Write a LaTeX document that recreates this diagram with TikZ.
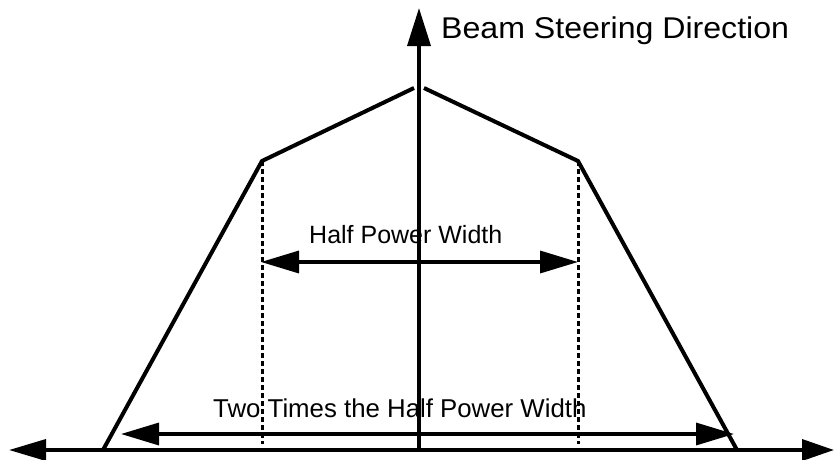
\documentclass[tikz,border=0pt]{standalone}
\usepackage{fontspec}
\setmainfont{Liberation Sans}
\usetikzlibrary{arrows.meta}
\tikzset{
  axis/.style={line width=3.6pt, -{Triangle[length=38pt,width=23pt]}},
  dimarrow/.style={line width=3.4pt, {Triangle[length=38pt,width=22pt]}-{Triangle[length=38pt,width=22pt]}},
  curve/.style={line width=4pt, line join=miter},
  guide/.style={line width=3pt, dash pattern=on 5pt off 3pt},
  lbl/.style={inner sep=0pt, anchor=base west}
}
\begin{document}
\begin{tikzpicture}[x=1pt,y=-1pt]
\useasboundingbox (0,0) rectangle (836,459);
% coordinates
\coordinate (origin) at (419,452);
\coordinate (top) at (419,8);
\coordinate (xl) at (9,450);
\coordinate (xr) at (834,450);
\coordinate (bl) at (103,450);
\coordinate (sl) at (262,161);
\coordinate (pl) at (414,88);
\coordinate (pr) at (424,88);
\coordinate (sr) at (578,161);
\coordinate (br) at (737,450);
\coordinate (dl) at (262,444);
\coordinate (dr) at (578,444);
\coordinate (hl) at (261,262);
\coordinate (hr) at (578,262);
\coordinate (tl) at (121,434);
\coordinate (tr) at (734,434);
% axes
\draw[axis] (origin) -- (top);
\draw[line width=3.6pt, {Triangle[length=37pt,width=21pt]}-{Triangle[length=32pt,width=21pt]}] (xl) -- (xr);
% beam shape
\draw[curve] (bl) -- (sl) -- (pl);
\draw[curve] (pr) -- (sr) -- (br);
% guides
\draw[guide] (sl) -- (dl);
\draw[guide] (sr) -- (dr);
% dimension arrows
\draw[dimarrow] (hl) -- (hr);
\draw[dimarrow] (tl) -- (tr);
% labels
\node[lbl, font=\fontsize{30}{32}\selectfont] (beam) at (441,38) {\scalebox{1.07}[1]{Beam Steering Direction}};
\node[lbl, font=\fontsize{25}{28}\selectfont] (half) at (309,243) {Half Power Width};
\node[lbl, font=\fontsize{25.8}{28}\selectfont] (two) at (213,417) {Two Times the Half Power Width};
\end{tikzpicture}
\end{document}
